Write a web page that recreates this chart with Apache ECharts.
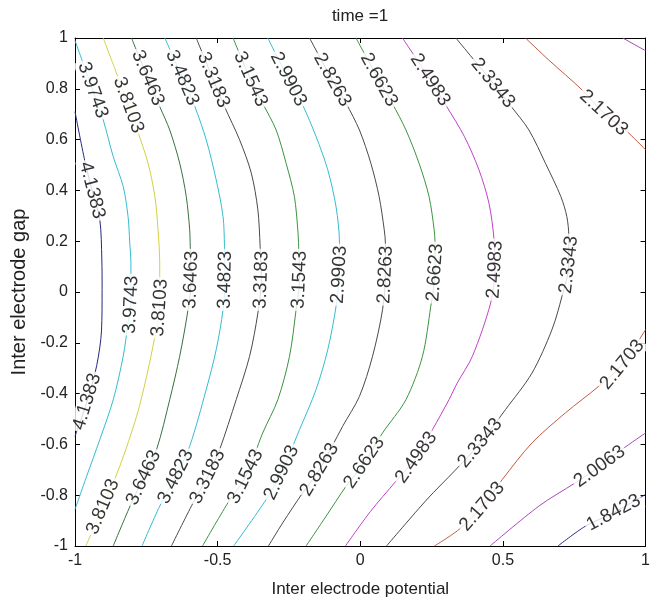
<!DOCTYPE html>
<html><head><meta charset="utf-8">
<script src="https://cdn.jsdelivr.net/npm/echarts@6/dist/echarts.min.js"></script>
<style>html,body{margin:0;padding:0;background:#fff}#c{width:653px;height:607px}</style>
</head><body><div id="c"></div>
<script>
// ---- data (x = potential, y = gap) ----
const xTicks = [-1, -0.5, 0, 0.5, 1];
const yTicks = [-1, -0.8, -0.6, -0.4, -0.2, 0, 0.2, 0.4, 0.6, 0.8, 1];
const levels = ['1.8423','2.0063','2.1703','2.3343','2.4983','2.6623','2.8263','2.9903','3.1543','3.3183','3.4823','3.6463','3.8103','3.9743','4.1383'];

const c4_1383 = [[-1,0.71],[-0.965,0.513],[-0.94,0.40],[-0.913,0.284],[-0.906,0.13],[-0.905,0.01],[-0.907,-0.15],[-0.924,-0.29],[-0.958,-0.432],[-1,-0.568]];
const c3_9743 = [[-1,0.99],[-0.938,0.795],[-0.901,0.677],[-0.866,0.533],[-0.831,0.415],[-0.814,0.297],[-0.808,0.193],[-0.804,0.115],[-0.804,-0.05],[-0.814,-0.122],[-0.831,-0.253],[-0.866,-0.424],[-0.913,-0.581],[-0.959,-0.725],[-1,-0.856]];
const c3_8103 = [[-0.901,1],[-0.85,0.848],[-0.813,0.736],[-0.782,0.638],[-0.744,0.507],[-0.72,0.376],[-0.709,0.245],[-0.703,0.114],[-0.703,-0.062],[-0.72,-0.175],[-0.749,-0.332],[-0.784,-0.489],[-0.843,-0.686],[-0.902,-0.845],[-0.962,-1]];
const c3_6463 = [[-0.802,1],[-0.745,0.843],[-0.703,0.73],[-0.668,0.638],[-0.633,0.507],[-0.61,0.376],[-0.598,0.245],[-0.596,0.179],[-0.593,0.048],[-0.604,-0.07],[-0.633,-0.253],[-0.668,-0.424],[-0.714,-0.62],[-0.759,-0.731],[-0.802,-0.83],[-0.866,-1]];
const c3_4823 = [[-0.685,1],[-0.624,0.843],[-0.58,0.73],[-0.54,0.599],[-0.505,0.441],[-0.481,0.297],[-0.476,0.179],[-0.474,0.048],[-0.481,-0.07],[-0.505,-0.227],[-0.54,-0.384],[-0.598,-0.607],[-0.647,-0.727],[-0.703,-0.843],[-0.765,-1]];
const c3_3183 = [[-0.575,1],[-0.515,0.835],[-0.476,0.73],[-0.423,0.599],[-0.382,0.468],[-0.359,0.324],[-0.351,0.179],[-0.347,0.048],[-0.359,-0.083],[-0.388,-0.253],[-0.435,-0.424],[-0.493,-0.62],[-0.535,-0.727],[-0.586,-0.83],[-0.662,-1]];
const c3_1543 = [[-0.446,1],[-0.385,0.838],[-0.339,0.736],[-0.295,0.638],[-0.26,0.507],[-0.231,0.376],[-0.219,0.245],[-0.216,0.179],[-0.213,0.048],[-0.225,-0.07],[-0.248,-0.253],[-0.289,-0.424],[-0.342,-0.555],[-0.402,-0.727],[-0.464,-0.83],[-0.553,-1]];
const c2_9903 = [[-0.324,1],[-0.252,0.838],[-0.202,0.736],[-0.155,0.612],[-0.114,0.481],[-0.085,0.336],[-0.073,0.193],[-0.074,0.068],[-0.085,-0.057],[-0.114,-0.227],[-0.155,-0.384],[-0.213,-0.542],[-0.276,-0.711],[-0.33,-0.817],[-0.444,-1]];
const c2_8263 = [[-0.178,1],[-0.098,0.835],[-0.05,0.743],[-0.003,0.638],[0.037,0.507],[0.066,0.376],[0.084,0.245],[0.088,0.193],[0.088,0.068],[0.078,-0.07],[0.043,-0.253],[-0.003,-0.411],[-0.062,-0.529],[-0.143,-0.699],[-0.202,-0.791],[-0.272,-0.909],[-0.322,-1]];
const c2_6623 = [[-0.015,1],[0.065,0.835],[0.112,0.743],[0.16,0.638],[0.206,0.507],[0.241,0.376],[0.259,0.245],[0.262,0.193],[0.262,0.076],[0.247,-0.057],[0.218,-0.253],[0.16,-0.424],[0.078,-0.555],[0.014,-0.672],[-0.05,-0.765],[-0.12,-0.883],[-0.19,-1]];
const c2_4983 = [[0.148,1],[0.245,0.835],[0.303,0.73],[0.365,0.612],[0.416,0.481],[0.451,0.35],[0.469,0.206],[0.472,0.088],[0.457,-0.043],[0.393,-0.253],[0.34,-0.358],[0.311,-0.424],[0.253,-0.542],[0.196,-0.652],[0.125,-0.745],[0.035,-0.865],[-0.052,-1]];
const c2_3343 = [[0.335,1],[0.465,0.823],[0.525,0.736],[0.591,0.638],[0.649,0.507],[0.703,0.376],[0.724,0.297],[0.731,0.218],[0.731,0.107],[0.707,-0.017],[0.672,-0.148],[0.602,-0.319],[0.509,-0.463],[0.42,-0.595],[0.33,-0.705],[0.235,-0.815],[0.092,-1]];
const c2_1703a = [[0.579,1],[0.661,0.913],[0.778,0.795],[0.853,0.705],[0.929,0.638],[1,0.56]];
const c2_1703b = [[1,-0.148],[0.918,-0.286],[0.836,-0.371],[0.719,-0.476],[0.602,-0.594],[0.498,-0.738],[0.427,-0.845],[0.346,-0.935],[0.26,-1]];
const c2_0063a = [[0.92,1],[1,0.95]];
const c2_0063b = [[1,-0.555],[0.917,-0.62],[0.839,-0.687],[0.754,-0.751],[0.626,-0.843],[0.455,-1]];
const c1_8423 = [[1,-0.797],[0.888,-0.869],[0.789,-0.922],[0.693,-1]];

// inline contour labels: [x, y, text]
const labelPts = [
  [-0.94,0.40,'4.1383'],[-0.958,-0.432,'4.1383'],
  [-0.938,0.795,'3.9743'],[-0.804,-0.05,'3.9743'],
  [-0.813,0.736,'3.8103'],[-0.703,-0.062,'3.8103'],[-0.902,-0.845,'3.8103'],
  [-0.745,0.843,'3.6463'],[-0.593,0.048,'3.6463'],[-0.759,-0.731,'3.6463'],
  [-0.624,0.843,'3.4823'],[-0.474,0.048,'3.4823'],[-0.647,-0.727,'3.4823'],
  [-0.515,0.835,'3.3183'],[-0.347,0.048,'3.3183'],[-0.535,-0.727,'3.3183'],
  [-0.385,0.838,'3.1543'],[-0.213,0.048,'3.1543'],[-0.402,-0.727,'3.1543'],
  [-0.252,0.838,'2.9903'],[-0.074,0.068,'2.9903'],[-0.276,-0.711,'2.9903'],
  [-0.098,0.835,'2.8263'],[0.088,0.068,'2.8263'],[-0.143,-0.699,'2.8263'],
  [0.065,0.835,'2.6623'],[0.262,0.076,'2.6623'],[0.014,-0.672,'2.6623'],
  [0.245,0.835,'2.4983'],[0.472,0.088,'2.4983'],[0.196,-0.652,'2.4983'],
  [0.465,0.823,'2.3343'],[0.731,0.107,'2.3343'],[0.42,-0.595,'2.3343'],
  [0.853,0.705,'2.1703'],[0.918,-0.286,'2.1703'],[0.427,-0.845,'2.1703'],
  [0.839,-0.687,'2.0063'],
  [0.888,-0.869,'1.8423']
];

// table of pieces built from the named arrays
const pieces = [
  ['1.8423', c1_8423], ['2.0063', c2_0063a], ['2.0063', c2_0063b],
  ['2.1703', c2_1703a], ['2.1703', c2_1703b], ['2.3343', c2_3343],
  ['2.4983', c2_4983], ['2.6623', c2_6623], ['2.8263', c2_8263],
  ['2.9903', c2_9903], ['3.1543', c3_1543], ['3.3183', c3_3183],
  ['3.4823', c3_4823], ['3.6463', c3_6463], ['3.8103', c3_8103],
  ['3.9743', c3_9743], ['4.1383', c4_1383]
];

// ---- styles ----
const levelColor = {
  '1.8423':'#262a8a','2.0063':'#a848b8','2.1703':'#c25a40','2.3343':'#4a4a4a',
  '2.4983':'#c040c8','2.6623':'#3a9440','2.8263':'#4a4a4a','2.9903':'#34bcd0',
  '3.1543':'#3a9440','3.3183':'#4a4a4a','3.4823':'#34bcd0','3.6463':'#3a7040',
  '3.8103':'#d4d040','3.9743':'#34bcd0','4.1383':'#262a7a'
};
const FONT = '"Liberation Sans", Arial, Helvetica, sans-serif';

const chart = echarts.init(document.getElementById('c'), null, {renderer:'canvas'});

function axisCommon(extra){
  return Object.assign({
    type:'value', min:-1, max:1,
    axisLine:{show:true, onZero:false, lineStyle:{color:'#000', width:1}},
    axisTick:{show:true, inside:true, length:5, lineStyle:{color:'#000', width:1}},
    splitLine:{show:false},
    axisLabel:{show:false}
  }, extra);
}
const labelStyle = {fontFamily:FONT, fontSize:16, color:'#222'};

const lineSeries = pieces.map(([lev, pts]) => ({
  type:'line', name:lev, data:pts, symbol:'none', showSymbol:false, smooth:0.3,
  lineStyle:{color:levelColor[lev], width:1}, silent:true, z:2, clip:true
}));

const option = {
  animation:false,
  backgroundColor:'#fff',
  grid:{left:75, right:6, top:38, bottom:61},
  graphic:[{type:'text', x:360, y:16, silent:true,
    style:{text:'time =1', fill:'#222', font:'17px ' + FONT, textAlign:'center', textVerticalAlign:'middle'}}],
  xAxis:[
    axisCommon({position:'bottom', interval:0.5,
      name:'Inter electrode potential', nameLocation:'middle', nameGap:35,
      nameTextStyle:{fontFamily:FONT, fontSize:17, color:'#222'},
      axisLabel:Object.assign({show:true, margin:7, formatter:v => String(v)}, labelStyle)}),
    axisCommon({position:'top', interval:0.5})
  ],
  yAxis:[
    axisCommon({position:'left', interval:0.2,
      name:'Inter electrode gap', nameLocation:'middle', nameGap:42,
      nameTextStyle:{fontFamily:FONT, fontSize:20, color:'#222'},
      axisLabel:Object.assign({show:true, margin:7, formatter:v => String(+v.toFixed(1))}, labelStyle)}),
    axisCommon({position:'right', interval:0.2})
  ],
  series: lineSeries
};
chart.setOption(option);

// label rotation from the local direction of the contour, in pixel space
function angleFor(lp){
  let best = null, bestD = Infinity;
  pieces.forEach(([lev, pts]) => {
    if (lev !== lp[2]) return;
    pts.forEach((p, i) => {
      const d = (p[0]-lp[0])**2 + (p[1]-lp[1])**2;
      if (d < bestD){ bestD = d; best = {pts, i}; }
    });
  });
  const n = best.pts.length;
  const a = best.pts[Math.max(0, best.i-1)], b = best.pts[Math.min(n-1, best.i+1)];
  const pa = chart.convertToPixel({gridIndex:0}, a), pb = chart.convertToPixel({gridIndex:0}, b);
  let ang = Math.atan2(-(pb[1]-pa[1]), pb[0]-pa[0]) * 180 / Math.PI;
  if (ang > 90) ang -= 180;
  if (ang <= -90) ang += 180;
  return ang;
}

const labelSeries = {
  type:'scatter', symbolSize:1, silent:true, z:5,
  itemStyle:{color:'rgba(0,0,0,0)'},
  data: labelPts.map(lp => ({
    value:[lp[0], lp[1]],
    label:{show:true, position:'inside', formatter:lp[2], rotate:angleFor(lp),
      fontFamily:FONT, fontSize:19, color:'#000', backgroundColor:'#fff', padding:[0,2]}
  }))
};
chart.setOption({series: lineSeries.concat([labelSeries])});
</script>
</body></html>
